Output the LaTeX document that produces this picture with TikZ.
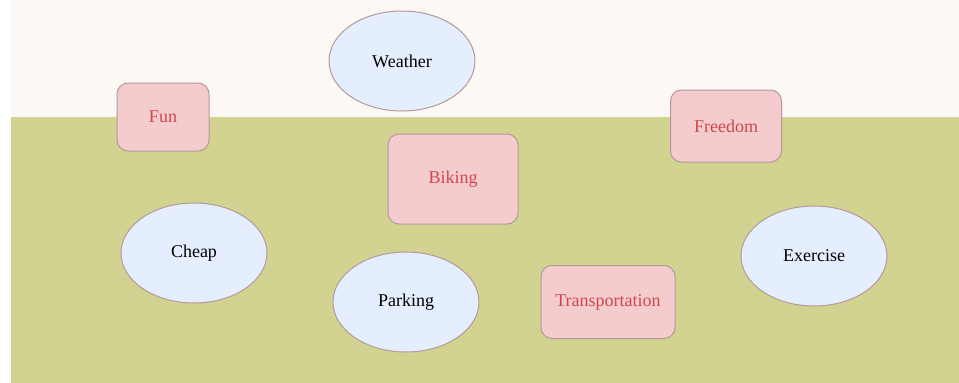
\documentclass[tikz,border=0pt]{standalone}
\usepackage{fontspec}
\setmainfont{Liberation Serif}
\usetikzlibrary{shapes.geometric}

\definecolor{skycream}{HTML}{FCF9F5}
\definecolor{fieldgreen}{HTML}{D2D391}
\definecolor{topicblue}{HTML}{E5EEFE}
\definecolor{reasonpink}{HTML}{F5CCCE}
\definecolor{edgemauve}{HTML}{B3999D}
\definecolor{reasonred}{HTML}{D0464E}

\begin{document}
\begin{tikzpicture}[x=1pt,y=-1pt,
  every node/.style={font=\fontsize{18}{21}\selectfont, line width=1pt, draw=edgemauve},
  topic/.style={ellipse, fill=topicblue, text=black,
    minimum width=146pt, minimum height=100pt, inner sep=0pt},
  reason/.style={rectangle, rounded corners=11pt, fill=reasonpink, text=reasonred, inner sep=0pt}]

  \useasboundingbox (0,0) rectangle (959,383);
  % backdrop: sky and field
  \fill[skycream] (11,0) rectangle (959,117);
  \fill[fieldgreen] (11,117) rectangle (959,383);

  \node[topic] (weather) at (402,61) {Weather};
  \node[topic] (cheap) at (194,253) {Cheap};
  \node[topic] (parking) at (406,302) {Parking};
  \node[topic] (exercise) at (814,256) {Exercise};

  \node[reason, minimum width=92pt, minimum height=68pt] (fun) at (163,117) {Fun};
  \node[reason, minimum width=130pt, minimum height=90pt] (biking) at (453,179) {Biking};
  \node[reason, minimum width=111pt, minimum height=72pt] (freedom) at (726,126) {Freedom};
  \node[reason, minimum width=134pt, minimum height=73pt] (transport) at (608,302) {Transportation};
\end{tikzpicture}
\end{document}
